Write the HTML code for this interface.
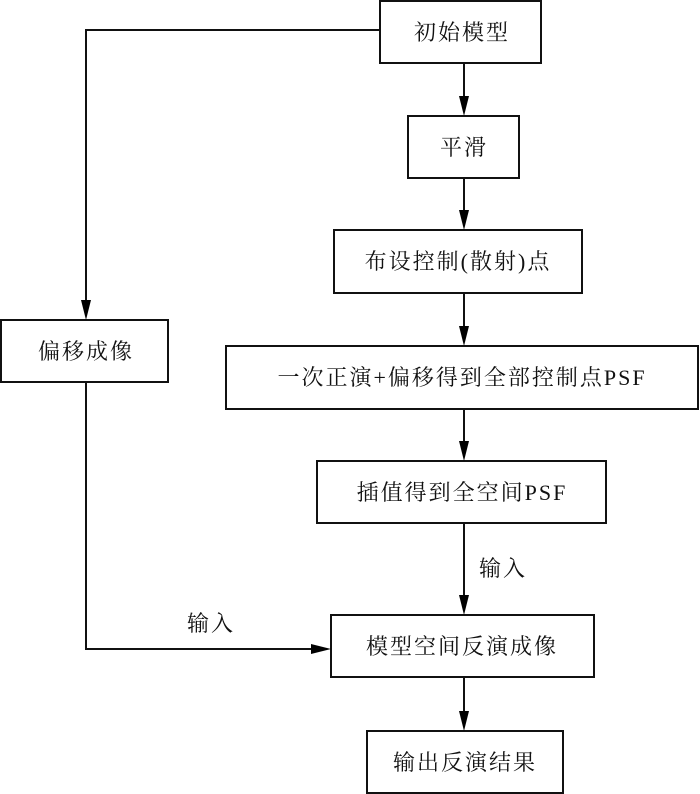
<!DOCTYPE html>
<html><head><meta charset="utf-8"><style>
html,body{margin:0;padding:0;background:#fff;}
svg{display:block;}
text{font-family:"Liberation Serif","Noto Serif CJK SC",serif;font-size:22px;fill:#111;letter-spacing:2px;}
</style></head><body>
<svg width="700" height="794" viewBox="0 0 700 794" xmlns="http://www.w3.org/2000/svg">
<defs>
<marker id="a" markerWidth="10" markerHeight="18" refX="10" refY="5" orient="auto" markerUnits="userSpaceOnUse" viewBox="0 0 18 10">
<path d="M0,0 L18,5 L0,10 Z" fill="#000"/>
</marker>
</defs>
<g fill="#fff" stroke="#111" stroke-width="2">
<rect x="380" y="1" width="161" height="62"/>
<rect x="408" y="116" width="111" height="62"/>
<rect x="334" y="230" width="248" height="63"/>
<rect x="1" y="320" width="167" height="62"/>
<rect x="226" y="346" width="472" height="63"/>
<rect x="317" y="461" width="289" height="62"/>
<rect x="331" y="615" width="263" height="62"/>
<rect x="367" y="731" width="196" height="62"/>
</g>
<g stroke="#111" stroke-width="2" fill="none">
<path d="M464,63 V96"/><path d="M464,178 V210"/><path d="M464,293 V326"/>
<path d="M464,409 V441"/><path d="M464,523 V595"/><path d="M464,677 V711"/>
<path d="M380,30 H86 V300"/><path d="M86,382 V649 H311"/>
</g>
<g fill="#000">
<path d="M459,96 L469,96 L464,116 Z"/><path d="M459,210 L469,210 L464,230 Z"/>
<path d="M459,326 L469,326 L464,346 Z"/><path d="M459,441 L469,441 L464,461 Z"/>
<path d="M459,595 L469,595 L464,615 Z"/><path d="M459,711 L469,711 L464,731 Z"/>
<path d="M81,300 L91,300 L86,320 Z"/><path d="M311,644 L311,654 L331,649 Z"/>
</g>
<g text-anchor="middle">
<text x="462" y="40">初始模型</text>
<text x="464" y="155">平滑</text>
<text x="458" y="269">布设控制(散射)点</text>
<text x="86" y="359">偏移成像</text>
<text x="462" y="385">一次正演+偏移得到全部控制点PSF</text>
<text x="462" y="500">插值得到全空间PSF</text>
<text x="462" y="654">模型空间反演成像</text>
<text x="465" y="770">输出反演结果</text>
<text x="211" y="631">输入</text>
<text x="503" y="576">输入</text>
</g>
</svg>
</body></html>
